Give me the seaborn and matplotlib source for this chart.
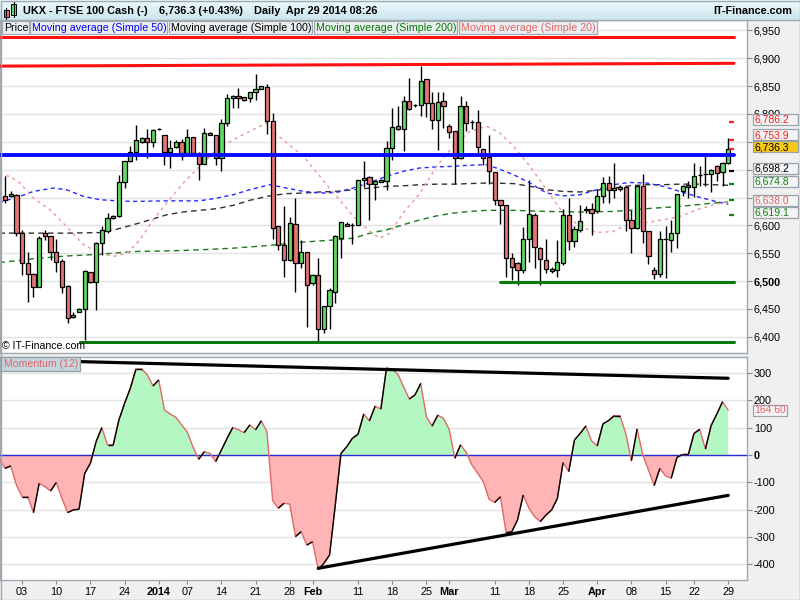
import numpy as np
import pandas as pd
import matplotlib
matplotlib.use("Agg")
import matplotlib.pyplot as plt
import seaborn as sns
from matplotlib.patches import Rectangle
from matplotlib.collections import LineCollection

# ---------------- data ----------------
opens = [6653, 6652, 6655, 6586, 6532, 6512, 6490, 6586, 6580, 6552,
         6536, 6491, 6435, 6445, 6449, 6516, 6498, 6568, 6589, 6613,
         6616, 6678, 6715, 6732, 6750, 6757, 6750, 6773, 6762, 6732,
         6741, 6750, 6730, 6759, 6730, 6711, 6766, 6763, 6721, 6784,
         6828, 6832, 6831, 6828, 6840, 6845, 6848, 6788, 6598, 6565,
         6538, 6602, 6532, 6552, 6496, 6510, 6413, 6456, 6481, 6578,
         6602, 6600, 6600, 6681, 6687, 6674, 6678, 6679, 6739, 6779,
         6773, 6824, 6816, 6816, 6862, 6820, 6789, 6824, 6778, 6770,
         6721, 6815, 6785, 6786, 6738, 6723, 6696, 6645, 6637, 6541,
         6532, 6520, 6575, 6619, 6559, 6538, 6518, 6520, 6533, 6619,
         6571, 6592, 6627, 6629, 6625, 6653, 6676, 6664, 6666, 6669,
         6609, 6595, 6671, 6589, 6520, 6512, 6575, 6574, 6586, 6662,
         6673, 6669, 6690, 6692, 6692, 6706, 6696, 6712]
highs = [6688, 6661, 6656, 6592, 6553, 6515, 6580, 6592, 6580, 6575,
         6540, 6493, 6445, 6451, 6520, 6517, 6570, 6598, 6623, 6619,
         6691, 6716, 6742, 6781, 6758, 6773, 6773, 6774, 6762, 6754,
         6753, 6755, 6773, 6759, 6731, 6775, 6767, 6763, 6791, 6835,
         6834, 6847, 6831, 6840, 6871, 6851, 6854, 6801, 6598, 6635,
         6615, 6649, 6574, 6552, 6512, 6541, 6456, 6487, 6583, 6606,
         6606, 6604, 6682, 6715, 6688, 6682, 6683, 6751, 6810, 6815,
         6833, 6865, 6818, 6887, 6862, 6839, 6839, 6840, 6782, 6770,
         6832, 6823, 6790, 6808, 6738, 6763, 6696, 6645, 6637, 6550,
         6535, 6597, 6682, 6622, 6562, 6576, 6525, 6574, 6630, 6650,
         6599, 6637, 6634, 6640, 6665, 6686, 6688, 6712, 6672, 6669,
         6628, 6671, 6692, 6589, 6526, 6590, 6598, 6610, 6656, 6672,
         6679, 6712, 6707, 6724, 6702, 6708, 6714, 6757]
lows = [6640, 6651, 6580, 6511, 6463, 6472, 6489, 6574, 6538, 6517,
        6478, 6424, 6433, 6444, 6394, 6496, 6448, 6547, 6587, 6612,
        6615, 6667, 6714, 6718, 6748, 6721, 6740, 6772, 6708, 6703,
        6739, 6718, 6727, 6727, 6682, 6711, 6762, 6708, 6697, 6778,
        6810, 6810, 6823, 6822, 6825, 6844, 6764, 6575, 6556, 6508,
        6536, 6481, 6523, 6418, 6493, 6391, 6407, 6413, 6460, 6541,
        6598, 6567, 6600, 6668, 6610, 6646, 6677, 6663, 6718, 6772,
        6734, 6808, 6813, 6797, 6794, 6773, 6736, 6775, 6757, 6674,
        6720, 6769, 6773, 6727, 6709, 6675, 6637, 6602, 6508, 6502,
        6493, 6514, 6535, 6523, 6493, 6514, 6515, 6507, 6529, 6556,
        6562, 6588, 6622, 6583, 6622, 6640, 6640, 6650, 6662, 6589,
        6551, 6593, 6569, 6531, 6503, 6507, 6505, 6553, 6560, 6652,
        6650, 6651, 6670, 6670, 6659, 6680, 6671, 6710]
closes = [6646, 6656, 6587, 6532, 6512, 6489, 6577, 6581, 6552, 6535,
          6490, 6433, 6439, 6449, 6518, 6498, 6568, 6591, 6613, 6617,
          6678, 6716, 6732, 6754, 6757, 6750, 6772, 6773, 6732, 6739,
          6750, 6730, 6759, 6730, 6711, 6766, 6763, 6721, 6784, 6829,
          6832, 6828, 6826, 6840, 6845, 6850, 6788, 6596, 6565, 6538,
          6604, 6532, 6552, 6492, 6510, 6413, 6456, 6484, 6580, 6606,
          6599, 6600, 6682, 6685, 6674, 6680, 6682, 6739, 6777, 6773,
          6824, 6809, 6816, 6860, 6820, 6789, 6822, 6815, 6768, 6721,
          6815, 6784, 6785, 6741, 6721, 6697, 6645, 6636, 6541, 6526,
          6520, 6575, 6620, 6561, 6540, 6521, 6522, 6535, 6619, 6571,
          6593, 6608, 6629, 6623, 6653, 6676, 6664, 6667, 6669, 6609,
          6595, 6671, 6589, 6545, 6512, 6575, 6575, 6586, 6656, 6671,
          6669, 6688, 6690, 6692, 6700, 6694, 6712, 6736.3]

mom_idx = list(range(-1, 128))
momentum = [-15, -49, -40, -110, -153, -153, -211, -104, -116, -132, -101,
            -159, -211, -201, -199, -67, -30, 49, 100, 37, 37,
            128, 189, 244, 315, 315, 293, 253, 275, 165, 150,
            138, 110, 85, 30, -16, 12, 6, -24, 18, 61,
            101, 92, 82, 110, 92, 125, 85, -167, -195, -177,
            -180, -299, -281, -330, -318, -419, -397, -366, -183, 6,
            30, 61, 76, 150, 125, 179, 168, 319, 315, 295,
            250, 205, 220, 262, 140, 106, 146, 134, 94, -12,
            37, 9, -37, -67, -98, -162, -174, -153, -285, -281,
            -238, -147, -195, -226, -244, -220, -201, -159, -28, -61,
            55, 79, 106, 52, 33, 114, 126, 144, 144, 79,
            -21, 95, 0, -55, -112, -49, -77, -85, -9, 2,
            2, 79, 94, 22, 108, 150, 195, 164.6]

ma50_idx = [-1, 2.6, 5, 8.5, 10.8, 13.8, 16.7, 19.6, 22.5, 28.4, 34.2, 37.2, 40.1, 43, 46.5,
            49.4, 52.4, 55.3, 58.2, 61.1, 64.1, 67, 69.9, 72.8, 75.8, 78.7, 81.6, 84.5,
            86.3, 89.3, 92.2, 95.1, 98, 101, 103.9, 106.8, 109.7, 112.7, 115.6, 118.5, 121.4, 124.4, 127]
ma50 = [6641, 6652, 6661, 6667, 6664, 6652, 6646, 6644, 6643, 6644, 6644, 6649, 6655, 6664, 6673,
        6667, 6661, 6658, 6659, 6667, 6677, 6688, 6697, 6703, 6705, 6706, 6708, 6709,
        6703, 6691, 6676, 6658, 6653, 6655, 6664, 6673, 6677, 6676, 6670, 6661, 6652, 6644, 6638]

ma100_idx = [-1, 5, 10.8, 16.7, 19.6, 22.5, 25.5, 28.4, 31.3, 34.2, 37.2, 40.1, 43, 46.5,
             49.5, 52.4, 55.3, 58.2, 61.2, 64.1, 67, 69.9, 72.9, 75.8, 78.7, 81.6, 84.6,
             89.3, 92.2, 95.1, 98, 101, 103.9, 106.8, 109.7, 112.7, 115.6, 118.5, 121.5, 124.4, 127]
ma100 = [6586, 6586, 6586, 6587, 6593, 6601, 6610, 6619, 6624, 6627, 6630, 6636, 6645, 6653,
         6657, 6658, 6660, 6661, 6664, 6667, 6670, 6671, 6673, 6674, 6674, 6675, 6676,
         6675, 6670, 6664, 6661, 6660, 6663, 6667, 6671, 6673, 6673, 6674, 6674, 6673, 6672]

ma200_idx = [-1, 5, 10.8, 16.7, 22.5, 28.4, 34.2, 40.1, 46.5,
             52.4, 58.2, 61.2, 64.1, 67, 69.9, 72.9, 75.8, 78.7, 81.6, 84.6,
             89.3, 95.1, 101, 106.8, 109.7, 112.7, 115.6, 118.5, 121.5, 124.4, 127]
ma200 = [6533, 6540, 6545, 6548, 6553, 6554, 6556, 6559, 6564,
         6570, 6574, 6577, 6586, 6592, 6601, 6610, 6617, 6622, 6625, 6627,
         6627, 6625, 6624, 6625, 6627, 6630, 6632, 6634, 6637, 6640, 6642]

ma20_idx = [-1, 0.9, 2.6, 5.0, 7.9, 10.8, 13.8, 16.7, 19.0, 21.4, 23.7, 26.0, 28.4, 31.3, 34.2,
            37.2, 40.1, 43.0, 46.0, 47.7, 49.5, 52.4, 55.3, 58.2, 61.2, 64.1, 65.8, 67.6, 69.9,
            72.9, 75.8, 78.7, 81.6, 84.6, 86.9, 89.3, 92.2, 95.1, 98.0, 101.0, 103.9, 106.8,
            108.6, 110.9, 112.7, 115.6, 118.5, 121.5, 124.4, 127]
ma20 = [6691, 6688, 6676, 6649, 6628, 6598, 6565, 6550, 6544, 6550, 6574, 6610, 6640, 6676, 6706,
        6736, 6754, 6769, 6784, 6763, 6748, 6724, 6688, 6652, 6616, 6589, 6577, 6586, 6622,
        6658, 6706, 6742, 6769, 6778, 6766, 6742, 6706, 6664, 6622, 6598, 6587, 6589,
        6598, 6607, 6605, 6610, 6616, 6628, 6637, 6642]

# drawn horizontal / trend lines: (start idx, end idx, start value, end value, colour, width)
price_lines = [(-1, 128, 6939, 6939, '#ff1010', 2.2),
               (-1, 128, 6886, 6891, '#ff1010', 2.2),
               (-1, 128, 6726, 6726, '#0a0aff', 2.8),
               (86.9, 128, 6498, 6498, '#0a780a', 2.2),
               (13.2, 128, 6391, 6391, '#0a780a', 2.2)]
mom_lines = [(13.2, 127, 342, 281), (55, 127, -415, -148)]

# last-bar markers and value labels on the right axis
mark_vals = [6786.2, 6753.9, 6736.3, 6698.2, 6674.8, 6645.0, 6619.1]
mark_cols = ['#ff2020', '#ff2020', '#ff2020', '#000000', '#108010', '#108010', '#108010']
label_vals = [6753.9, 6786.2, 6736.3, 6619.1, 6698.2, 6674.8, 6638.0]
label_cols = ['#ff1a1a', '#ff1a1a', '#000000', '#108010', '#000000', '#108010', '#e06666']
label_bg = ['#f4f4f4', '#f4f4f4', '#f8c81a', '#f4f4f4', '#f4f4f4', '#f4f4f4', '#f4f4f4']
mom_last = 164.60

up_ticks = list(range(6400, 7000, 50))
hidden_up_ticks = {6650, 6700, 6750}   # fully covered by the value boxes in the reference
mom_ticks = list(range(-400, 400, 100))
x_tick_idx = [3, 9, 15, 21, 27, 32, 38, 44, 50, 54, 62, 68, 74, 78, 86, 92, 98, 104, 110, 116, 121, 127]
x_tick_lbl = ['03', '10', '17', '24', '2014', '07', '14', '21', '28', 'Feb', '11', '18', '25',
              'Mar', '11', '18', '25', 'Apr', '08', '15', '22', '29']
bold_lbls = {'2014', 'Feb', 'Mar', 'Apr'}

legend_items = [("Price", '#000000', 2, 29),
                ("Moving average (Simple 50)", '#0000ff', 30, 167),
                ("Moving average (Simple 100)", '#000000', 169, 312),
                ("Moving average (Simple 200)", '#007a00', 313.5, 457),
                ("Moving average (Simple 20)", '#e06666', 459, 597)]

# ---------------- figure ----------------
sns.set_theme(style="white")
plt.rcParams['font.family'] = ['Liberation Sans', 'DejaVu Sans']

W, H = 800, 600
fig = plt.figure(figsize=(8, 6), dpi=100)
fig.patch.set_facecolor('#f0f0f0')


def fbox(x0, y0, x1, y1):
    return [x0 / W, 1 - y1 / H, (x1 - x0) / W, (y1 - y0) / H]


ax1 = fig.add_axes(fbox(0, 20, 747, 353.3))
ax2 = fig.add_axes(fbox(0, 356.7, 747, 580))
XL = (-0.88, 130.3)
border = '#a0a8b0'

for ax in (ax1, ax2):
    ax.set_facecolor('white')
    for s in ax.spines.values():
        s.set_color(border)
        s.set_linewidth(1)
    ax.set_xlim(*XL)
    ax.set_axisbelow(True)
    ax.grid(axis='y', color='#e3e3e3', lw=1)
    ax.grid(axis='x', visible=False)

# ---- candles ----
df = pd.DataFrame({'i': np.arange(len(opens)), 'open': opens, 'high': highs,
                   'low': lows, 'close': closes})
up = df['close'] >= df['open']
ax1.vlines(df['i'], df['low'], df['high'], color='black', lw=1.0, zorder=4)
body_bot = np.minimum(df['open'], df['close'])
body_h = np.maximum((df['close'] - df['open']).abs(), 0.8)
ax1.bar(df['i'], body_h, bottom=body_bot, width=0.74,
        color=np.where(up, '#62d962', '#e57575'), edgecolor='black', linewidth=0.9, zorder=5)

# ---- moving averages ----
sns.lineplot(x=ma200_idx, y=ma200, ax=ax1, color='#1b7a1b', lw=1.0, linestyle=(0, (4, 3)), zorder=2)
sns.lineplot(x=ma100_idx, y=ma100, ax=ax1, color='#303030', lw=1.0, linestyle=(0, (4, 3)), zorder=2)
sns.lineplot(x=ma50_idx, y=ma50, ax=ax1, color='#2a2aff', lw=1.0, linestyle=(0, (3, 2.5)), zorder=2)
sns.lineplot(x=ma20_idx, y=ma20, ax=ax1, color='#eba0a0', lw=1.1, linestyle=(0, (2, 2.5)), zorder=2)

for x0, x1, v0, v1, c, w in price_lines:
    sns.lineplot(x=[x0, x1], y=[v0, v1], ax=ax1, color=c, lw=w, zorder=7)

for v, c in zip(mark_vals, mark_cols):
    ax1.hlines(v, 127.1, 128.1, color=c, lw=1.6, zorder=8)

ax1.set_ylim(6370.2, 6968.8)
ax1.yaxis.tick_right()
ax1.set_yticks(up_ticks)
ax1.set_yticklabels(["" if t in hidden_up_ticks else f"{t:,}" for t in up_ticks])
ax1.tick_params(axis='y', which='both', direction='out', length=3.6, width=0.8,
                color='#7f8a92', pad=1.2, labelsize=7.8, labelcolor='black',
                right=True, left=False, labelright=True, labelleft=False)
ax1.tick_params(axis='x', bottom=False, labelbottom=False)
for lbl in ax1.get_yticklabels():
    if lbl.get_text() == '6,500':
        lbl.set_fontweight('bold')
ax1.set_xlabel('')
ax1.set_ylabel('')

# ---- momentum panel ----
mi = np.array(mom_idx, dtype=float)
mv = np.array(momentum, dtype=float)
ax2.fill_between(mi, mv, 0, where=mv >= 0, interpolate=True, color='#b4f7c3', lw=0, zorder=2)
ax2.fill_between(mi, mv, 0, where=mv <= 0, interpolate=True, color='#ffb5b5', lw=0, zorder=2)
ax2.axhline(0, color='#2b2bd0', lw=1.0, zorder=3)
sns.lineplot(x=mom_idx, y=momentum, ax=ax2, color='#e06868', lw=1.0, zorder=4)
segs = [[(mi[k], mv[k]), (mi[k + 1], mv[k + 1])] for k in range(len(mi) - 1) if mv[k + 1] >= mv[k]]
ax2.add_collection(LineCollection(segs, colors='black', linewidths=1.0, zorder=5))
for x0, x1, v0, v1 in mom_lines:
    sns.lineplot(x=[x0, x1], y=[v0, v1], ax=ax2, color='black', lw=2.3, zorder=6)

ax2.set_ylim(-458, 360)
ax2.set_xlim(*XL)
ax2.yaxis.tick_right()
ax2.set_yticks(mom_ticks)
ax2.set_yticklabels([str(t) for t in mom_ticks])
ax2.tick_params(axis='y', which='both', direction='out', length=3.6, width=0.8,
                color='#7f8a92', pad=1.2, labelsize=7.8, labelcolor='black',
                right=True, left=False, labelright=True, labelleft=False)
for lbl in ax2.get_yticklabels():
    if lbl.get_text() == '0':
        lbl.set_fontweight('bold')
ax2.set_xticks(x_tick_idx)
ax2.set_xticklabels(x_tick_lbl)
ax2.tick_params(axis='x', direction='out', length=3.2, width=0.8, color='#7f8a92',
                pad=2.0, labelsize=7.8, labelcolor='black', bottom=True)
for lbl in ax2.get_xticklabels():
    if lbl.get_text() in bold_lbls:
        lbl.set_fontweight('bold')
ax2.set_xlabel('')
ax2.set_ylabel('')

# ---------------- overlay: header, legend, value boxes ----------------
ov = fig.add_axes([0, 0, 1, 1], zorder=10)
ov.patch.set_visible(False)
grad = np.linspace(0, 1, 20)[:, None, None]
top_c = np.array([0.93, 0.98, 0.99])
bot_c = np.array([0.80, 0.90, 0.94])
img = top_c + (bot_c - top_c) * grad
ov.imshow(np.repeat(img, 2, axis=1), extent=(0, 800, 20, 0), aspect='auto',
          interpolation='bilinear', zorder=0)
ov.set_xlim(0, 800)
ov.set_ylim(600, 0)
ov.axis('off')
ov.plot([0, 800], [20, 20], color=border, lw=1)
ov.add_patch(Rectangle((0.5, 0.5), 799, 599, fill=False, edgecolor=border, lw=1))

# header icon
ov.plot([6.3, 6.3], [8, 18.5], color='black', lw=0.8)
ov.add_patch(Rectangle((3.5, 10), 5.6, 6.5, facecolor='#e57575', edgecolor='black', lw=0.7))
ov.plot([13.5, 13.5], [1.5, 16.5], color='black', lw=0.8)
ov.add_patch(Rectangle((11, 3.5), 5, 11.5, facecolor='#62d962', edgecolor='black', lw=0.7))

hdr = dict(fontsize=7.8, fontweight='bold', va='center', color='black')
ov.text(22.7, 10.6, "UKX - FTSE 100 Cash (-)", ha='left', **hdr)
ov.text(159, 10.6, "6,736.3 (+0.43%)", ha='left', **hdr)
ov.text(254, 10.6, "Daily  Apr 29 2014 08:26", ha='left', **hdr)
ov.text(792, 10.6, "IT-Finance.com", ha='right', **hdr)

for txt, col, x0, x1 in legend_items:
    ov.add_patch(Rectangle((x0, 21), x1 - x0, 12.8, facecolor='#eceff1', edgecolor=border, lw=0.9))
    ov.text(x0 + 2.2, 27.6, txt, color=col, fontsize=7.7, va='center', ha='left')

ov.text(2, 346, "\u00a9 IT-Finance.com", fontsize=7.6, va='center', ha='left', color='black')

ov.add_patch(Rectangle((1, 356.5), 79, 14.5, facecolor='#c5d5dd', edgecolor='#8e9ea6', lw=0.9))
ov.text(3.5, 364, "Momentum (12)", color='#e06666', fontsize=7.6, va='center', ha='left')


def y_px(ax, v):
    return H - ax.transData.transform((0, v))[1]


# place value boxes at their values, nudged apart so they stack like the reference
ypos = {v: y_px(ax1, v) - 2.5 for v in label_vals}
order = sorted(label_vals)          # lowest value (largest y) first
for a, b in zip(order[:-1], order[1:]):
    if ypos[a] - ypos[b] < 12:
        ypos[b] = ypos[a] - 12

for v, tc, bg in zip(label_vals, label_cols, label_bg):
    yc = ypos[v]
    ov.add_patch(Rectangle((752.7, yc - 5.5), 45.6, 11, facecolor=bg, edgecolor='#98a2aa', lw=0.9))
    ov.text(754.5, yc + 0.3, f"{v:,.1f}", color=tc, fontsize=7.5, va='center', ha='left')

yc = y_px(ax2, mom_last)
ov.add_patch(Rectangle((752.7, yc - 5.5), 34.6, 11, facecolor='#f4f4f4', edgecolor='#98a2aa', lw=0.9))
ov.text(754.5, yc + 0.3, f"{mom_last:.2f}", color='#e06666', fontsize=7.5, va='center', ha='left')

fig.savefig("out.png", dpi=100, facecolor=fig.get_facecolor())
